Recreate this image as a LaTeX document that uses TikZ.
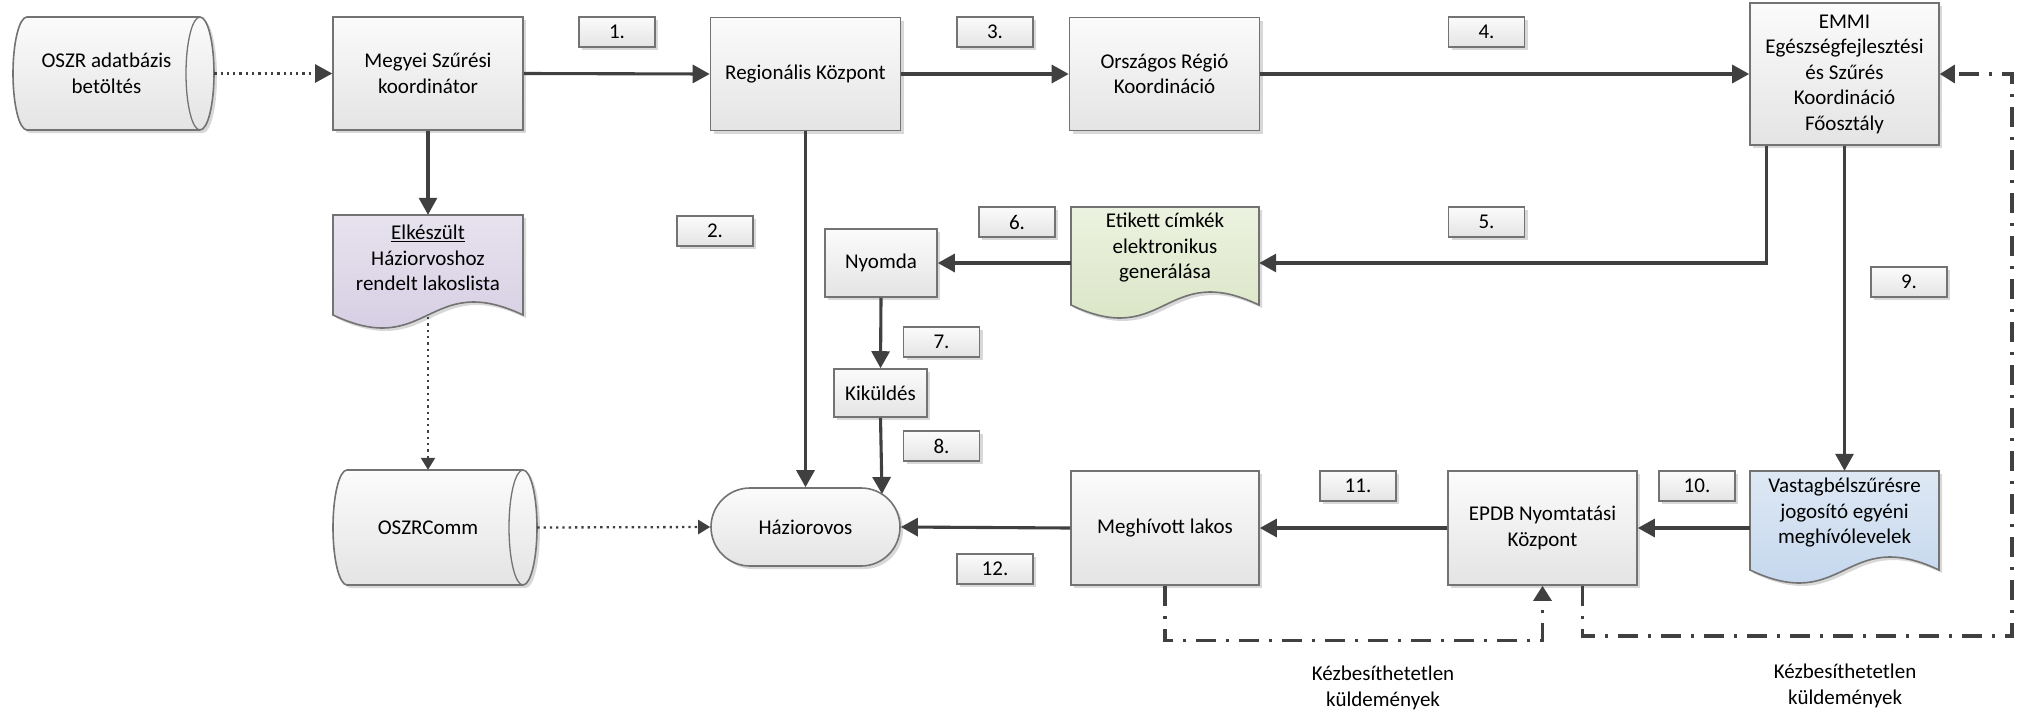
\documentclass[tikz,border=0pt]{standalone}
\usepackage{fontspec}
\setmainfont{Carlito}
\usetikzlibrary{arrows.meta,shadows,calc}
\definecolor{linecol}{RGB}{64,64,64}
\definecolor{bordercol}{RGB}{115,115,115}
\definecolor{boxtop}{RGB}{251,251,251}
\definecolor{boxbot}{RGB}{228,228,228}
\definecolor{purtop}{RGB}{231,226,238}
\definecolor{purbot}{RGB}{210,202,225}
\definecolor{grntop}{RGB}{236,242,224}
\definecolor{grnbot}{RGB}{214,226,192}
\definecolor{blutop}{RGB}{222,232,244}
\definecolor{blubot}{RGB}{190,211,236}
\newcommand{\fnt}{\fontsize{21pt}{25.5pt}\selectfont}
% document shape: x1, top, x2, base, colour prefix
\newcommand{\docshape}[5]{%
  \path[shapebase, top color=#5top, bottom color=#5bot] (#1,#2) -- (#3,#2) -- (#3,#4)
    .. controls ({(#1+#3)/2},{#4-45}) and ({(#1+#3)/2},{#4+45}) .. (#1,#4) -- cycle;}
% horizontal cylinder: left corner x, top, right corner x, bottom
\newcommand{\cylshape}[4]{%
  \path[shapebase, top color=boxtop, bottom color=boxbot] (#1,#2) -- (#3,#2)
    arc[start angle=90,end angle=-90,x radius=14pt,y radius={(#4-#2)/2*1pt}] -- (#1,#4)
    arc[start angle=270,end angle=90,x radius=14pt,y radius={(#4-#2)/2*1pt}] -- cycle;
  \draw[bordercol, line width=1.3pt] (#3,#2)
    arc[start angle=90,end angle=270,x radius=14pt,y radius={(#4-#2)/2*1pt}];}
\tikzset{
  shapebase/.style={draw=bordercol, line width=1.6pt,
    drop shadow={shadow xshift=3pt, shadow yshift=-3pt, fill=black!30, opacity=0.5}},
  box/.style={shapebase, top color=boxtop, bottom color=boxbot, align=center,
    font=\fnt, inner sep=3pt},
  bigbox/.style={box, minimum width=190pt, minimum height=113pt},
  lbl/.style={box, minimum width=76pt, minimum height=30pt, inner sep=1pt},
  txt/.style={align=center, font=\fnt, inner sep=0pt},
  conn/.style={draw=linecol, line width=3.1pt, -{Triangle[length=17pt,width=18pt]}},
  dotarrow/.style={draw=linecol, line width=2.3pt, dash pattern=on 2.3pt off 4pt,
    -{Triangle[length=12pt,width=14pt]}},
  dashdot/.style={draw=linecol, line width=3.1pt,
    dash pattern=on 20pt off 10pt on 3pt off 10pt},
}
\begin{document}
\begin{tikzpicture}[x=1pt,y=-1pt]
\fill[white] (0,0) rectangle (2023,715);
\useasboundingbox (0,0) rectangle (2023,715);

% special shapes
\cylshape{27}{17}{200}{130}
\cylshape{347}{470}{523}{585}
\docshape{333}{215}{523}{315}{pur}
\docshape{1071}{207}{1259}{305}{grn}
\docshape{1750}{471}{1939}{570}{blu}

% texts of special shapes
\node[txt, minimum width=187pt, minimum height=113pt] (oszr) at (106.5,73.5) {OSZR adatbázis\\betöltés};
\node[txt, minimum width=190pt, minimum height=115pt] (oszrc) at (428,527.5) {OSZRComm};
\node[txt, minimum width=190pt, minimum height=86pt] (elk) at (428,258) {\underline{Elkészült}\\Háziorvoshoz\\rendelt lakoslista};
\node[txt, minimum width=188pt, minimum height=82pt] (etik) at (1165,248) {Etikett címkék\\elektronikus\\generálása};
\node[txt, minimum width=189pt, minimum height=84pt] (vast) at (1844.5,513) {Vastagbélszűrésre\\jogosító egyéni\\meghívólevelek};

% process boxes
\node[bigbox] (megyei) at (428,73.5) {Megyei Szűrési\\koordinátor};
\node[bigbox] (regio) at (805.5,74) {Regionális Központ};
\node[bigbox] (orszag) at (1164.5,74) {Országos Régió\\Koordináció};
\node[box, minimum width=189pt, minimum height=142pt] (emmi) at (1844.5,74) {EMMI\\Egészségfejlesztési\\és Szűrés\\Koordináció\\Főosztály};
\node[box, minimum width=112pt, minimum height=68pt] (nyom) at (881,263) {Nyomda};
\node[box, minimum width=93pt, minimum height=48pt] (kik) at (880.5,393) {Kiküldés};
\node[box, minimum width=188pt, minimum height=114pt] (megh) at (1165,528) {Meghívott lakos};
\node[box, minimum width=189pt, minimum height=114pt] (epdb) at (1542.5,528) {EPDB Nyomtatási\\Központ};
\node[box, rounded corners=39pt, minimum width=189pt, minimum height=78pt] (hazi) at (805.5,527) {Háziorovos};

% step labels
\node[lbl] (l1) at (617,32) {1.};
\node[lbl] (l2) at (715,231) {2.};
\node[lbl] (l3) at (995,32) {3.};
\node[lbl] (l4) at (1486.5,32) {4.};
\node[lbl] (l5) at (1486.5,222) {5.};
\node[lbl] (l6) at (1017,222) {6.};
\node[lbl] (l7) at (941.5,342) {7.};
\node[lbl] (l8) at (941.5,446) {8.};
\node[lbl] (l9) at (1909,282) {9.};
\node[lbl] (l10) at (1697,486) {10.};
\node[lbl] (l11) at (1358,486) {11.};
\node[lbl] (l12) at (995,569) {12.};

\node[txt] (kez1) at (1383,688) {Kézbesíthetetlen\\küldemények};
\node[txt] (kez2) at (1845,686) {Kézbesíthetetlen\\küldemények};

% helper coordinates
\coordinate (haziTop) at (882,494);
\coordinate (elkB) at (428,317);
\coordinate (ret) at (2012,636);

% connectors
\draw[dotarrow, -{Triangle[length=17pt,width=18pt]}] ($(oszr.east)+(14,0)$) -- (megyei.west);
\draw[conn] (megyei.east) -- (regio.west);
\draw[conn] (regio.east) -- (orszag.west);
\draw[conn] (orszag.east) -- (emmi.west);
\draw[conn] (megyei.south) -- (elk.north);
\draw[conn] (regio.south) -- (hazi.north);
\draw[conn] ($(emmi.south west)+(17,0)$) |- (etik.east |- nyom.east);
\draw[conn] (etik.west |- nyom.east) -- (nyom.east);
\draw[conn] (emmi.south) -- (vast.north);
\draw[conn] (nyom.south) -- (kik.north);
\draw[conn] (kik.south) -- (haziTop);
\draw[conn] (vast.west |- epdb.east) -- (epdb.east);
\draw[conn] (epdb.west) -- (megh.east);
\draw[conn] (megh.west) -- (hazi.east);
\draw[dotarrow] (elkB) -- (elk.south |- oszrc.north);
\draw[dotarrow] ($(oszrc.east)+(14,0)$) -- (hazi.west);
\draw[dashdot, -{Triangle[length=15pt,width=18pt]}] (megh.south) -- ++(0,55) -| (epdb.south);
\draw[dashdot, -{Triangle[length=15pt,width=18pt]}] ($(epdb.south)+(40,0)$) |- (ret) |- (emmi.east);
\end{tikzpicture}
\end{document}
